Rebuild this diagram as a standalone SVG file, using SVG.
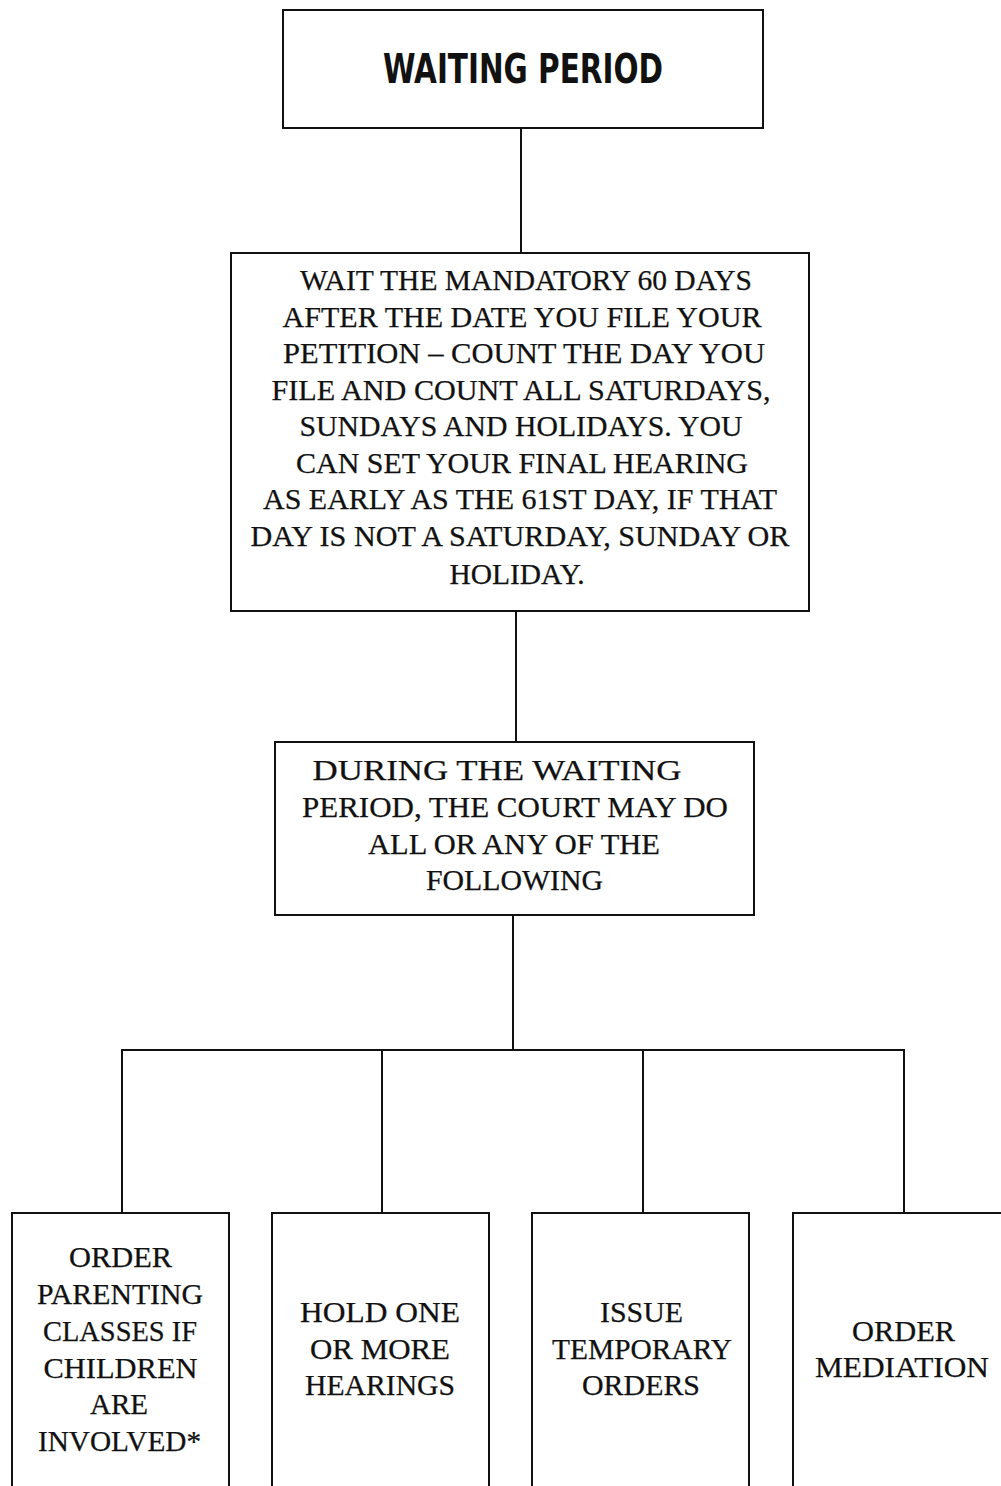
<svg xmlns="http://www.w3.org/2000/svg" width="1001" height="1486" viewBox="0 0 1001 1486">
  <style>
    .box { fill: #ffffff; stroke: #111111; stroke-width: 2; }
    .wire { fill: none; stroke: #111111; stroke-width: 2; }
    .title { font-family: "DejaVu Sans Condensed", "DejaVu Sans", sans-serif; font-weight: bold; font-size: 40px; fill: #111111; text-anchor: middle; }
    .body { font-family: "Liberation Serif", "DejaVu Serif", serif; font-size: 29px; fill: #111111; stroke: #111111; stroke-width: 0.25; text-anchor: middle; }
  </style>
  <rect width="1001" height="1486" fill="#ffffff"/>

  <!-- connectors -->
  <g id="connectors" class="wire">
    <line x1="521" y1="128" x2="521" y2="253"/>
    <line x1="516" y1="611" x2="516" y2="742"/>
    <line x1="513" y1="915" x2="513" y2="1050"/>
    <line x1="121" y1="1050" x2="905" y2="1050"/>
    <line x1="122" y1="1050" x2="122" y2="1213"/>
    <line x1="382" y1="1050" x2="382" y2="1213"/>
    <line x1="643" y1="1050" x2="643" y2="1213"/>
    <line x1="904" y1="1050" x2="904" y2="1213"/>
  </g>

  <!-- heading -->
  <g id="waiting-period">
    <rect class="box" x="283" y="10" width="480" height="118"/>
    <text class="title" x="523" y="83" textLength="280" lengthAdjust="spacingAndGlyphs">WAITING PERIOD</text>
  </g>

  <!-- mandatory 60 days -->
  <g id="mandatory-wait">
    <rect class="box" x="231" y="253" width="578" height="358"/>
    <text class="body" x="526" y="290" textLength="452" lengthAdjust="spacingAndGlyphs">WAIT THE MANDATORY 60 DAYS</text>
    <text class="body" x="522" y="326.5" textLength="479" lengthAdjust="spacingAndGlyphs">AFTER THE DATE YOU FILE YOUR</text>
    <text class="body" x="524" y="363" textLength="482" lengthAdjust="spacingAndGlyphs">PETITION – COUNT THE DAY YOU</text>
    <text class="body" x="521" y="399.5" textLength="499" lengthAdjust="spacingAndGlyphs">FILE AND COUNT ALL SATURDAYS,</text>
    <text class="body" x="521" y="436" textLength="443" lengthAdjust="spacingAndGlyphs">SUNDAYS AND HOLIDAYS. YOU</text>
    <text class="body" x="522" y="472.5" textLength="452" lengthAdjust="spacingAndGlyphs">CAN SET YOUR FINAL HEARING</text>
    <text class="body" x="520" y="509" textLength="514" lengthAdjust="spacingAndGlyphs">AS EARLY AS THE 61ST DAY, IF THAT</text>
    <text class="body" x="520" y="545.5" textLength="539" lengthAdjust="spacingAndGlyphs">DAY IS NOT A SATURDAY, SUNDAY OR</text>
    <text class="body" x="517" y="584" textLength="135" lengthAdjust="spacingAndGlyphs">HOLIDAY.</text>
  </g>

  <!-- court options -->
  <g id="court-options">
    <rect class="box" x="275" y="742" width="479" height="173"/>
    <text class="body" x="497" y="780" textLength="369" lengthAdjust="spacingAndGlyphs">DURING THE WAITING</text>
    <text class="body" x="515" y="817" textLength="426" lengthAdjust="spacingAndGlyphs">PERIOD, THE COURT MAY DO</text>
    <text class="body" x="514" y="854" textLength="292" lengthAdjust="spacingAndGlyphs">ALL OR ANY OF THE</text>
    <text class="body" x="514.5" y="890" textLength="177" lengthAdjust="spacingAndGlyphs">FOLLOWING</text>
  </g>

  <!-- option: parenting classes -->
  <g id="parenting-classes">
    <rect class="box" x="12" y="1213" width="217" height="290"/>
    <text class="body" x="120.5" y="1267" textLength="103" lengthAdjust="spacingAndGlyphs">ORDER</text>
    <text class="body" x="120" y="1304" textLength="166" lengthAdjust="spacingAndGlyphs">PARENTING</text>
    <text class="body" x="120" y="1341" textLength="154" lengthAdjust="spacingAndGlyphs">CLASSES IF</text>
    <text class="body" x="120.5" y="1377.5" textLength="154" lengthAdjust="spacingAndGlyphs">CHILDREN</text>
    <text class="body" x="119" y="1414" textLength="58" lengthAdjust="spacingAndGlyphs">ARE</text>
    <text class="body" x="119.5" y="1450.5" textLength="163" lengthAdjust="spacingAndGlyphs">INVOLVED*</text>
  </g>

  <!-- option: hearings -->
  <g id="hearings">
    <rect class="box" x="272" y="1213" width="217" height="290"/>
    <text class="body" x="380" y="1322" textLength="160" lengthAdjust="spacingAndGlyphs">HOLD ONE</text>
    <text class="body" x="380" y="1359" textLength="140" lengthAdjust="spacingAndGlyphs">OR MORE</text>
    <text class="body" x="380" y="1395" textLength="150" lengthAdjust="spacingAndGlyphs">HEARINGS</text>
  </g>

  <!-- option: temporary orders -->
  <g id="temporary-orders">
    <rect class="box" x="532" y="1213" width="217" height="290"/>
    <text class="body" x="641.5" y="1322" textLength="83" lengthAdjust="spacingAndGlyphs">ISSUE</text>
    <text class="body" x="642" y="1359" textLength="180" lengthAdjust="spacingAndGlyphs">TEMPORARY</text>
    <text class="body" x="641" y="1395" textLength="118" lengthAdjust="spacingAndGlyphs">ORDERS</text>
  </g>

  <!-- option: mediation -->
  <g id="mediation">
    <rect class="box" x="793" y="1213" width="230" height="290"/>
    <text class="body" x="903.5" y="1341" textLength="103" lengthAdjust="spacingAndGlyphs">ORDER</text>
    <text class="body" x="902" y="1377" textLength="174" lengthAdjust="spacingAndGlyphs">MEDIATION</text>
  </g>
</svg>
